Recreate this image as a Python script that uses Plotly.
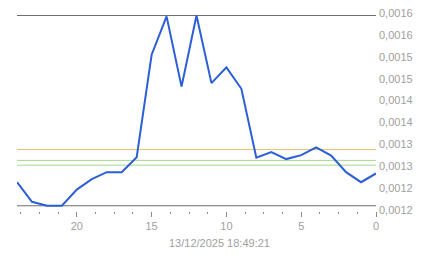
import plotly.graph_objects as go

hours = [24, 23, 22, 21, 20, 19, 18, 17, 16, 15, 14, 13, 12, 11, 10, 9, 8, 7, 6, 5, 4, 3, 2, 1, 0]
values = [0.001243, 0.001198, 0.001189, 0.001189, 0.001226, 0.00125, 0.001266, 0.001266,
          0.0013, 0.001535, 0.001623, 0.001462, 0.001625, 0.00147, 0.001506, 0.001457,
          0.001299, 0.001312, 0.001296, 0.001305, 0.001323, 0.001304, 0.001266, 0.001243, 0.001263]
yellow_level = 0.001318
green_levels = [0.001293, 0.001282]
y_ticks = [0.00118 + 0.00005 * k for k in range(10)]
x_ticks = [20, 15, 10, 5, 0]
x_title = "13/12/2025 18:49:21"

vmax = max(values)
vmin = min(values)
x_span = [max(hours), min(hours)]

fig = go.Figure()
fig.add_trace(go.Scatter(x=x_span, y=[vmax, vmax], mode="lines",
                         line=dict(color="#6e6e6e", width=1), hoverinfo="skip"))
fig.add_trace(go.Scatter(x=x_span, y=[vmin, vmin], mode="lines",
                         line=dict(color="#6e6e6e", width=1), hoverinfo="skip"))
fig.add_trace(go.Scatter(x=x_span, y=[yellow_level, yellow_level], mode="lines",
                         line=dict(color="#e4c466", width=1), hoverinfo="skip"))
for g in green_levels:
    fig.add_trace(go.Scatter(x=x_span, y=[g, g], mode="lines",
                             line=dict(color="#a4da8e", width=1), hoverinfo="skip"))
fig.add_trace(go.Scatter(x=hours, y=values, mode="lines",
                         line=dict(color="#2b5fd3", width=2)))

fig.add_annotation(text=x_title, xref="paper", yref="paper", x=0.5627, y=0,
                   yshift=-32, yanchor="middle", showarrow=False,
                   font=dict(size=11, color="#a0a0a0"))

fig.update_layout(
    width=443, height=258,
    margin=dict(l=17, r=67, t=13, b=47, autoexpand=False),
    paper_bgcolor="white", plot_bgcolor="white",
    showlegend=False,
    separators=",.",
    font=dict(family="Liberation Sans, Arial, sans-serif", size=11, color="#a0a0a0"),
    xaxis=dict(
        range=[24, 0], showgrid=False, zeroline=False, showline=False, automargin=False,
        tickvals=x_ticks, ticks="outside", ticklen=5, tickcolor="#8a8a8a", tickwidth=1,
        minor=dict(dtick=1.25, tick0=0, ticks="outside", ticklen=2, tickcolor="#8a8a8a", showgrid=False),
        tickfont=dict(size=11, color="#a0a0a0"),
    ),
    yaxis=dict(
        side="right", range=[0.001177, 0.0016307], showgrid=False, zeroline=False, showline=False,
        automargin=False, tickvals=y_ticks, tickformat=".4f", ticks="", ticklabelstandoff=2,
        tickfont=dict(size=11, color="#a0a0a0"),
    ),
)

fig.write_html("out.html")
